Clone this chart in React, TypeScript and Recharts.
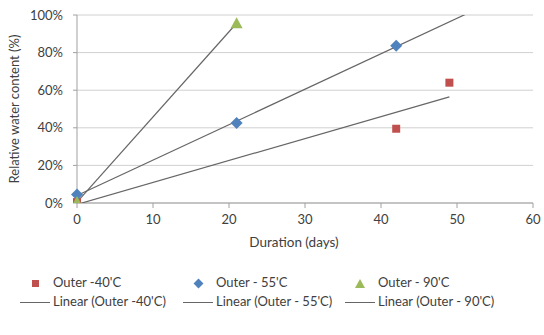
import { ScatterChart, Scatter, XAxis, YAxis, CartesianGrid } from 'recharts'

// measured values (days, fraction of water content)
const days40 = [0, 42, 49]
const water40 = [0.005, 0.395, 0.64]
const days55 = [0, 21, 42]
const water55 = [0.045, 0.425, 0.837]
const days90 = [0, 21]
const water90 = [0.005, 0.956]

// x-range each trendline is drawn over
const trend40Range = [0, 49]
const trend55Range = [0, 52]
const trend90Range = [0, 21]

const xTicks = [0, 10, 20, 30, 40, 50, 60]
const yTicks = [0, 0.2, 0.4, 0.6, 0.8, 1]

const seriesNames = ['Outer -40\'C', 'Outer - 55\'C', 'Outer - 90\'C']

const RED = '#c0504d'
const BLUE = '#4f81bd'
const GREEN = '#9bbb59'
const TREND = '#666666'
const FONT = 'Lato, "Open Sans", sans-serif'

const toPoints = (xs: number[], ys: number[]) => xs.map((x, i) => ({ x, y: ys[i] }))

function trend(xs: number[], ys: number[], range: number[]) {
  const n = xs.length
  const mx = xs.reduce((a, b) => a + b, 0) / n
  const my = ys.reduce((a, b) => a + b, 0) / n
  let sxy = 0
  let sxx = 0
  xs.forEach((x, i) => {
    sxy += (x - mx) * (ys[i] - my)
    sxx += (x - mx) * (x - mx)
  })
  const slope = sxy / sxx
  const icpt = my - slope * mx
  return range.map((x) => ({ x, y: icpt + slope * x }))
}

const Square = (p: any) => (
  <rect x={p.cx - 4} y={p.cy - 4} width={8} height={8} fill={RED} />
)
const Diamond = (p: any) => (
  <path
    d={`M${p.cx},${p.cy - 6} L${p.cx + 6},${p.cy} L${p.cx},${p.cy + 6} L${p.cx - 6},${p.cy} Z`}
    fill={BLUE}
  />
)
const Triangle = (p: any) => (
  <path
    d={`M${p.cx},${p.cy - 6} L${p.cx + 6},${p.cy + 5} L${p.cx - 6},${p.cy + 5} Z`}
    fill={GREEN}
  />
)
const NoDot = () => <g />

const tickStyle = { fontSize: 13, fill: '#404040', fontFamily: FONT }

function LegendBlock() {
  const cols = [20, 183, 345]
  const markers = [
    <span style={{ width: 7, height: 7, background: RED, display: 'block' }} />,
    <span
      style={{ width: 7, height: 7, background: BLUE, display: 'block', transform: 'rotate(45deg)' }}
    />,
    <svg width={10} height={9}>
      <path d="M5,0 L10,9 L0,9 Z" fill={GREEN} />
    </svg>,
  ]
  return (
    <div style={{ position: 'absolute', left: 0, top: 0, fontFamily: FONT, fontSize: 13, color: '#404040' }}>
      {seriesNames.map((name, i) => (
        <div key={name}>
          <div
            style={{
              position: 'absolute',
              left: cols[i] + 10,
              top: 278,
              width: 10,
              height: 10,
              display: 'flex',
              alignItems: 'center',
              justifyContent: 'center',
            }}
          >
            {markers[i]}
          </div>
          <div style={{ position: 'absolute', left: cols[i] + 33, top: 274, whiteSpace: 'nowrap' }}>{name}</div>
          <div
            style={{ position: 'absolute', left: cols[i], top: 302, width: 30, height: 1, background: TREND }}
          />
          <div style={{ position: 'absolute', left: cols[i] + 33, top: 293, whiteSpace: 'nowrap' }}>
            Linear ({name})
          </div>
        </div>
      ))}
    </div>
  )
}

export default function App() {
  return (
    <div style={{ position: 'absolute', left: 0, top: 0, width: 544, height: 335, background: '#fff' }}>
      <ScatterChart width={544} height={335} margin={{ top: 15, right: 11, left: 0, bottom: 82 }}>
        <CartesianGrid vertical={false} stroke="#d0d0d0" />
        <XAxis
          type="number"
          dataKey="x"
          domain={[0, 60]}
          ticks={xTicks}
          height={50}
          stroke="#a0a0a0"
          tickSize={5}
          tickMargin={7}
          tick={tickStyle}
          label={{
            value: 'Duration (days)',
            position: 'insideBottom',
            offset: 6,
            dx: -11,
            style: { fontSize: 13.5, fill: '#404040', fontFamily: FONT },
          }}
        />
        <YAxis
          type="number"
          dataKey="y"
          domain={[0, 1]}
          allowDataOverflow
          ticks={yTicks}
          width={77}
          stroke="#a0a0a0"
          tickSize={4}
          tickMargin={10}
          tick={tickStyle}
          tickFormatter={(v: number) => `${Math.round(v * 100)}%`}
          label={{
            value: 'Relative water content (%)',
            angle: -90,
            position: 'insideLeft',
            offset: 14,
            style: { fontSize: 13, fill: '#404040', fontFamily: FONT, textAnchor: 'middle' },
          }}
        />
        <Scatter
          data={trend(days40, water40, trend40Range)}
          line={{ stroke: TREND, strokeWidth: 1.2 }}
          shape={NoDot}
          isAnimationActive={false}
        />
        <Scatter
          data={trend(days55, water55, trend55Range)}
          line={{ stroke: TREND, strokeWidth: 1.2 }}
          shape={NoDot}
          isAnimationActive={false}
        />
        <Scatter
          data={trend(days90, water90, trend90Range)}
          line={{ stroke: TREND, strokeWidth: 1.2 }}
          shape={NoDot}
          isAnimationActive={false}
        />
        <Scatter data={toPoints(days40, water40)} shape={Square} isAnimationActive={false} />
        <Scatter data={toPoints(days55, water55)} shape={Diamond} isAnimationActive={false} />
        <Scatter data={toPoints(days90, water90)} shape={Triangle} isAnimationActive={false} />
      </ScatterChart>
      <LegendBlock />
    </div>
  )
}
